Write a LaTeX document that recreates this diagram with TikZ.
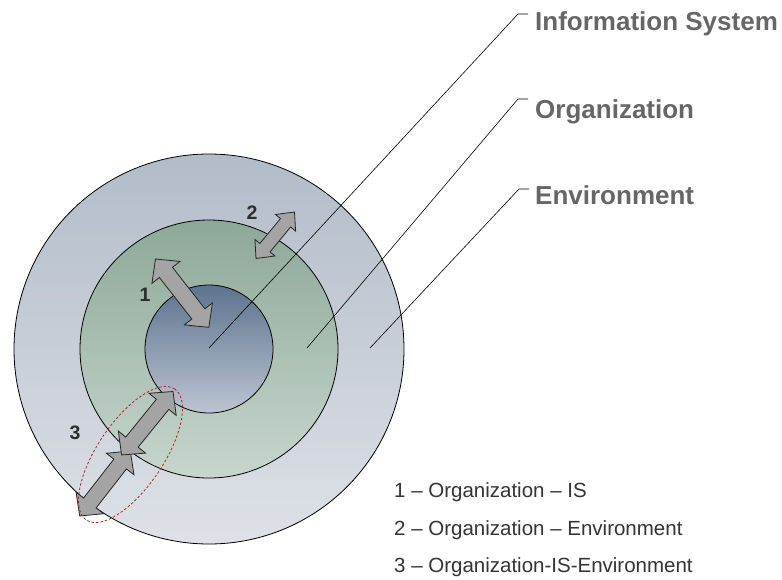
\documentclass[tikz,border=0pt]{standalone}
\usepackage{fontspec}
\setmainfont{Liberation Sans}
\usetikzlibrary{calc}
\definecolor{outerTop}{RGB}{178,188,201}
\definecolor{outerBot}{RGB}{222,225,231}
\definecolor{midTop}{RGB}{141,168,152}
\definecolor{midBot}{RGB}{200,214,206}
\definecolor{innTop}{RGB}{93,115,143}
\definecolor{innBot}{RGB}{188,196,210}
\definecolor{arrowgray}{RGB}{164,164,164}
\definecolor{labelgray}{RGB}{102,102,102}
\definecolor{legendgray}{RGB}{51,51,51}
\definecolor{numgray}{RGB}{45,45,45}
\definecolor{ellred}{RGB}{176,40,40}
\tikzset{
  ring/.style={draw=black, line width=0.8pt},
  leader/.style={draw=black, line width=0.6pt},
  blockarr/.style={draw=black!85, fill=arrowgray, line width=0.8pt, line join=miter},
  titletext/.style={font=\fontsize{26}{30}\selectfont\bfseries, text=labelgray, anchor=base west, inner sep=0pt},
  legendtext/.style={font=\fontsize{20.5}{24}\selectfont, text=legendgray, anchor=base west, inner sep=0pt},
  numtext/.style={font=\fontsize{19.5}{22}\selectfont\bfseries, text=numgray, inner sep=0pt},
  groupring/.style={draw=ellred, dash pattern=on 2.5pt off 2pt, line width=0.8pt}
}
% #1 start tip, #2 end tip, #3 shaft half width, #4 head half width, #5 head length
\newcommand\blockarrow[5]{%
  \path[blockarr] let \p1=($(#2)-(#1)$), \n1={atan2(\y1,\x1)},
    \n2={veclen(\x1,\y1)}, \n3={veclen(\x1,\y1)-#5} in
    ([shift={(#1)},rotate=\n1]0pt,0pt)
    -- ([shift={(#1)},rotate=\n1]#5pt,#4pt)
    -- ([shift={(#1)},rotate=\n1]#5pt,#3pt)
    -- ([shift={(#1)},rotate=\n1]\n3,#3pt)
    -- ([shift={(#1)},rotate=\n1]\n3,#4pt)
    -- ([shift={(#1)},rotate=\n1]\n2,0pt)
    -- ([shift={(#1)},rotate=\n1]\n3,-#4pt)
    -- ([shift={(#1)},rotate=\n1]\n3,-#3pt)
    -- ([shift={(#1)},rotate=\n1]#5pt,-#3pt)
    -- ([shift={(#1)},rotate=\n1]#5pt,-#4pt)
    -- cycle;%
}
\begin{document}
\begin{tikzpicture}[x=1pt,y=-1pt]
\useasboundingbox (0,0) rectangle (782,579);

% circles
\coordinate (c) at (209,349);
\path[ring, top color=outerTop, bottom color=outerBot] (c) circle (195pt);
\path[ring, top color=midTop, bottom color=midBot] (c) circle (129pt);
\path[ring, top color=innTop, bottom color=innBot] (c) circle (64pt);

% leader lines
\coordinate (isA) at (209,348);
\coordinate (isB) at (518,14);
\coordinate (isC) at (528,14);
\coordinate (orA) at (307,348);
\coordinate (orB) at (518,99);
\coordinate (orC) at (528,99);
\coordinate (enA) at (370,348);
\coordinate (enB) at (519,189);
\coordinate (enC) at (529,189);
\draw[leader] (isA) -- (isB) -- (isC);
\draw[leader] (orA) -- (orB) -- (orC);
\draw[leader] (enA) -- (enB) -- (enC);

\node[titletext] (tIS) at (535,30.5) {Information System};
\node[titletext] (tOrg) at (535,118) {Organization};
\node[titletext] (tEnv) at (535,204.5) {Environment};

% arrows
\coordinate (a1s) at (155.5,259);
\coordinate (a1e) at (209,327.5);
\blockarrow{a1s}{a1e}{8.3}{17.8}{17}
\coordinate (a2s) at (294.5,212);
\coordinate (a2e) at (256,258.5);
\blockarrow{a2s}{a2e}{6.6}{13}{14}
\coordinate (a3bs) at (130.3,451);
\coordinate (a3be) at (79.7,516);
\blockarrow{a3bs}{a3be}{8}{17.5}{16.5}
\coordinate (a3as) at (173,391.5);
\coordinate (a3ae) at (121.5,455);
\blockarrow{a3as}{a3ae}{8}{17.5}{16.5}

% dashed group ellipse
\coordinate (ellc) at (130.5,454.5);
\draw[groupring, rotate around={56:(ellc)}] (ellc) ellipse [x radius=79pt, y radius=33pt];

% numbers
\node[numtext] (n1) at (145,295) {1};
\node[numtext] (n2) at (252,213) {2};
\node[numtext] (n3) at (75,433) {3};

% legend
\node[legendtext] (l1) at (394,497) {1 -- Organization -- IS};
\node[legendtext] (l2) at (394,535) {2 -- Organization -- Environment};
\node[legendtext] (l3) at (394,572) {3 -- Organization-IS-Environment};
\end{tikzpicture}
\end{document}
